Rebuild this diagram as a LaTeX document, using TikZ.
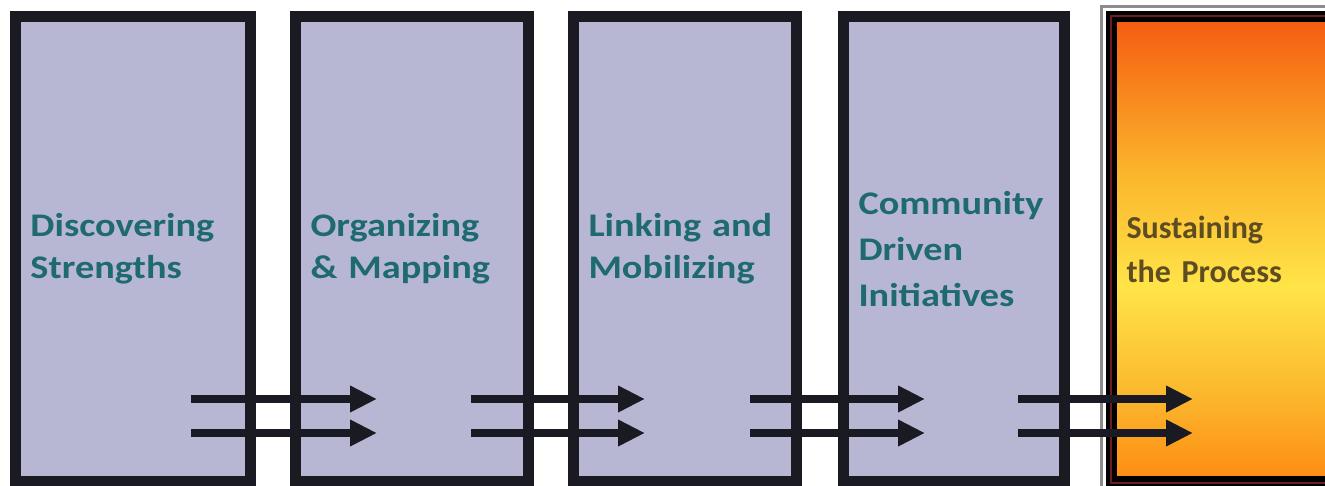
\documentclass[tikz,border=0pt]{standalone}
\usepackage{fontspec}
\setmainfont{Carlito}
\newfontfamily\widefont{Carlito}[FakeStretch=1.16]
\usetikzlibrary{arrows.meta}
\definecolor{lilac}{HTML}{B7B7D4}
\definecolor{edge}{HTML}{1A1A22}
\definecolor{tealtext}{HTML}{1F6A70}
\definecolor{olivetext}{HTML}{5E4C22}
\definecolor{rimgray}{HTML}{8C8C8C}
\definecolor{rimred}{HTML}{6E1E1E}
\definecolor{sunred}{HTML}{F55A10}
\definecolor{sunamber}{HTML}{FBB62C}
\definecolor{sunyellow}{HTML}{FFE448}
\definecolor{sunorange}{HTML}{FF8A12}
\pgfdeclareverticalshading{sunset}{100bp}{color(0bp)=(sunorange); color(25bp)=(sunorange);
  color(34bp)=(sunamber); color(46bp)=(sunyellow); color(58bp)=(sunamber);
  color(75bp)=(sunred); color(100bp)=(sunred)}
\begin{document}
\begin{tikzpicture}[x=1pt, y=-1pt,
    stage/.style={draw=edge, fill=lilac, line width=11pt, minimum height=465pt,
      inner xsep=15pt, inner ysep=0pt, align=left, text=tealtext,
      font=\widefont\bfseries\fontsize{33}{42}\selectfont},
    goal/.style={stage, shading=sunset, draw=black, text=olivetext,
      font=\bfseries\fontsize{32}{44}\selectfont},
    flow/.style={draw=edge, line width=8pt, -{Triangle[length=27pt, width=25pt]}}
]
\useasboundingbox (0,0) rectangle (1325,485);

% --- Stufen ---
\node[stage, text width=205pt] (s1) at (133,249) {Discovering\\Strengths};
\node[stage, text width=203pt] (s2) at (412,249) {Organizing\\\& Mapping};
\node[stage, text width=193pt] (s3) at (685,249) {Linking and\\Mobilizing};
\node[stage, text width=191pt, font=\widefont\bfseries\fontsize{33}{46}\selectfont]
  (s4) at (954,249) {Community\\Driven\\Initiatives};
\node[goal,  text width=213pt] (s5) at (1233,249) {Sustaining\\the Process};

% --- Rahmen der letzten Stufe ---
\draw[rimgray, line width=2.5pt] ([shift={(-4.5,-4.5)}]s5.north west) rectangle ([shift={(4.5,4.5)}]s5.south east);
\draw[rimred, line width=2pt] ([shift={(4.5,4.5)}]s5.north west) rectangle ([shift={(-4.5,-4.5)}]s5.south east);

% --- Pfeile 1 -> 2 ---
\coordinate (a1) at (191,399);
\coordinate (b1) at (377,399);
\coordinate (c1) at (191,433);
\coordinate (d1) at (377,433);
\draw[flow] (a1) -- (b1);
\draw[flow] (c1) -- (d1);

% --- Pfeile 2 -> 3 ---
\coordinate (a2) at (471,399);
\coordinate (b2) at (645,399);
\coordinate (c2) at (471,433);
\coordinate (d2) at (645,433);
\draw[flow] (a2) -- (b2);
\draw[flow] (c2) -- (d2);

% --- Pfeile 3 -> 4 ---
\coordinate (a3) at (750,399);
\coordinate (b3) at (925,399);
\coordinate (c3) at (750,433);
\coordinate (d3) at (925,433);
\draw[flow] (a3) -- (b3);
\draw[flow] (c3) -- (d3);

% --- Pfeile 4 -> 5 ---
\coordinate (a4) at (1018,399);
\coordinate (b4) at (1193,399);
\coordinate (c4) at (1018,433);
\coordinate (d4) at (1193,433);
\draw[flow] (a4) -- (b4);
\draw[flow] (c4) -- (d4);

\end{tikzpicture}
\end{document}
